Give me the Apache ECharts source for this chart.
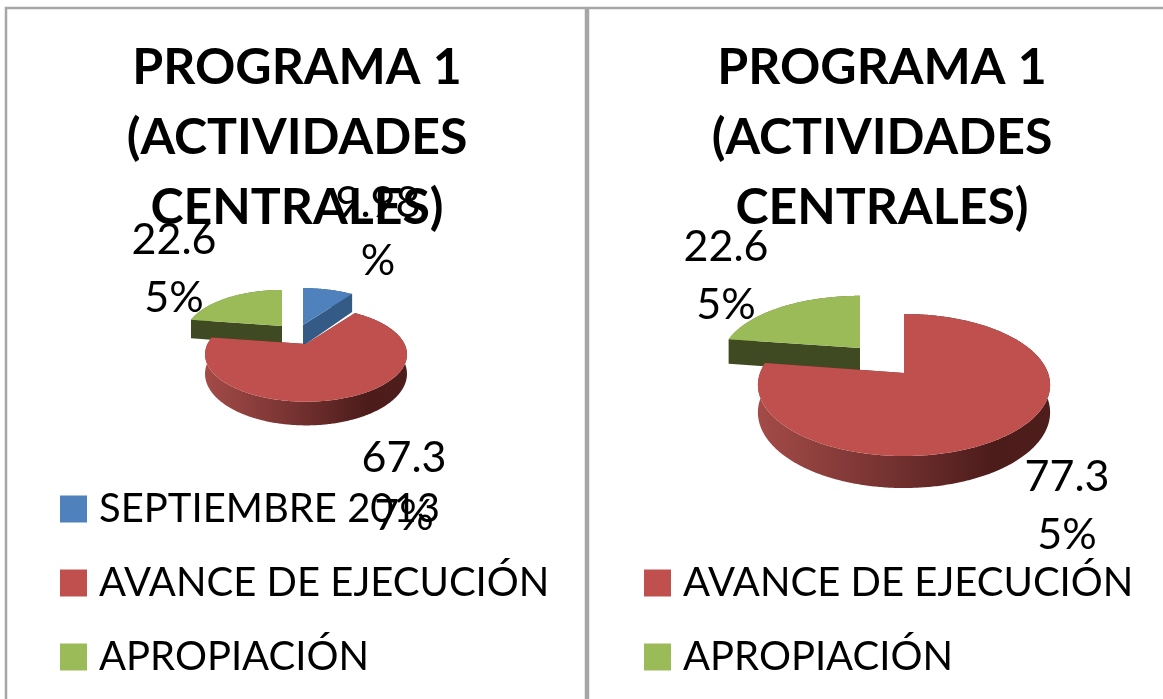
<!DOCTYPE html>
<html><head><meta charset="utf-8">
<style>html,body{margin:0;padding:0;background:#fff}#c{width:1163px;height:699px}</style>
<script src="https://cdn.jsdelivr.net/npm/echarts@6/dist/echarts.min.js"></script>
</head><body><div id="c"></div>
<script>
const titleText = 'PROGRAMA 1\n(ACTIVIDADES\nCENTRALES)';
const leftCategories = ['SEPTIEMBRE 2013', 'AVANCE DE EJECUCIÓN', 'APROPIACIÓN'];
const leftValues = [9.98, 67.37, 22.65];
const rightCategories = ['AVANCE DE EJECUCIÓN', 'APROPIACIÓN'];
const rightValues = [77.35, 22.65];

const palette = {
  'SEPTIEMBRE 2013': {top:'#4f81bd', side:'#345a86', wall:['#3d6391','#2c4a70']},
  'AVANCE DE EJECUCIÓN': {top:'#c0504d', side:'#6e2a28', wall:['#a34b48','#7a3533','#4c1c1b','#4e1e1c']},
  'APROPIACIÓN': {top:'#9bbb59', side:'#404a22', wall:['#76903f','#566a2c']}
};
// drawing layout of each exploded slice (apex, radii, perspective, thickness) and label
const leftLayout = [
  {ax:303, ay:325, rx:98.5, ry:45, k:.22, d:21, lx:378, ly:232},
  {ax:306, ay:344, rx:98.5, ry:45, k:.22, d:18.5, lx:404, ly:487},
  {ax:282, ay:326, rx:95, ry:44, k:.22, d:19, lx:174, ly:269}
];
const rightLayout = [
  {ax:904, ay:373, rx:144, ry:69, k:.169, d:26.6, lx:1067, ly:506},
  {ax:860, ay:348, rx:136, ry:61, k:.169, d:25, lx:726, ly:276}
];
const FONT = 'Lato';

function labelOf(v){
  const s = v.toFixed(2) + '%';
  return s.slice(0,4) + '\n' + s.slice(4);
}
function makeSeries(names, values, layout){
  const total = values.reduce((a,b)=>a+b,0);
  let cum = 0;
  return names.map((name,i)=>{
    const start = cum; cum += values[i];
    const L = layout[i], P = palette[name];
    return {
      type:'custom', name, coordinateSystem:'none', z: name==='AVANCE DE EJECUCIÓN'?4:3,
      itemStyle:{color:P.top}, silent:true,
      data:[[values[i], start, total]],
      renderItem(params, api){
        const a0 = api.value(1)/api.value(2)*Math.PI*2;
        const a1 = (api.value(1)+api.value(0))/api.value(2)*Math.PI*2;
        const pt = (t,drop)=>{
          const X=Math.sin(t),Y=Math.cos(t),w=1+L.k*Y;
          return [L.ax+L.rx*X/w, L.ay-L.ry*Y/w+(drop?L.d/w:0)];
        };
        const n = Math.max(8,Math.ceil((a1-a0)*90));
        const top=[],bot=[];
        for(let j=0;j<=n;j++){const t=a0+(a1-a0)*j/n;top.push(pt(t,false));bot.push(pt(t,true));}
        const apexT=[L.ax,L.ay],apexB=[L.ax,L.ay+L.d];
        const stops=P.wall.map((c,j)=>({offset:j===3?1:(P.wall.length===4?[0,.4,.8][j]:j/(P.wall.length-1)),color:c}));
        const poly=(points,fill)=>({type:'polygon',shape:{points},style:{fill}});
        return {type:'group',children:[
          poly(top.concat(bot.slice().reverse()),{type:'linear',x:0,y:0,x2:1,y2:0,colorStops:stops}),
          poly([top[0],apexT,apexB,bot[0]],P.side),
          poly([top[n],apexT,apexB,bot[n]],P.side),
          poly([apexT].concat(top),P.top),
          {type:'text',z2:10,style:{text:labelOf(api.value(0)),x:L.lx,y:L.ly,align:'center',verticalAlign:'middle',
            fontFamily:FONT,fontSize:43,lineHeight:58,fill:'#000'}}
        ]};
      }
    };
  });
}
const legendFor=(names,left,top)=>({
  orient:'vertical',left,top,itemWidth:27,itemHeight:27,itemGap:32,icon:'rect',selectedMode:false,
  data:names,textStyle:{fontFamily:FONT,fontSize:40,color:'#000',padding:[0,0,0,7],lineHeight:42},itemStyle:{borderWidth:0}
});
const titleFor=(x)=>({text:titleText,left:x,top:28,textAlign:'center',
  textStyle:{fontFamily:FONT,fontWeight:'bold',fontSize:50,lineHeight:70,color:'#000'}});
const frame=(x)=>({type:'rect',silent:true,z:0,shape:{x,y:8,width:580,height:720},style:{fill:'none',stroke:'#a6a6a6',lineWidth:2.5}});

const chart=echarts.init(document.getElementById('c'),null,{renderer:'canvas'});
chart.setOption({
  animation:false,backgroundColor:'#fff',
  title:[titleFor(292),titleFor(877)],
  legend:[legendFor(leftCategories,55,483),legendFor(rightCategories,639,557)],
  graphic:[frame(6),frame(588)],
  series:makeSeries(leftCategories,leftValues,leftLayout).concat(makeSeries(rightCategories,rightValues,rightLayout))
});
</script></body></html>
